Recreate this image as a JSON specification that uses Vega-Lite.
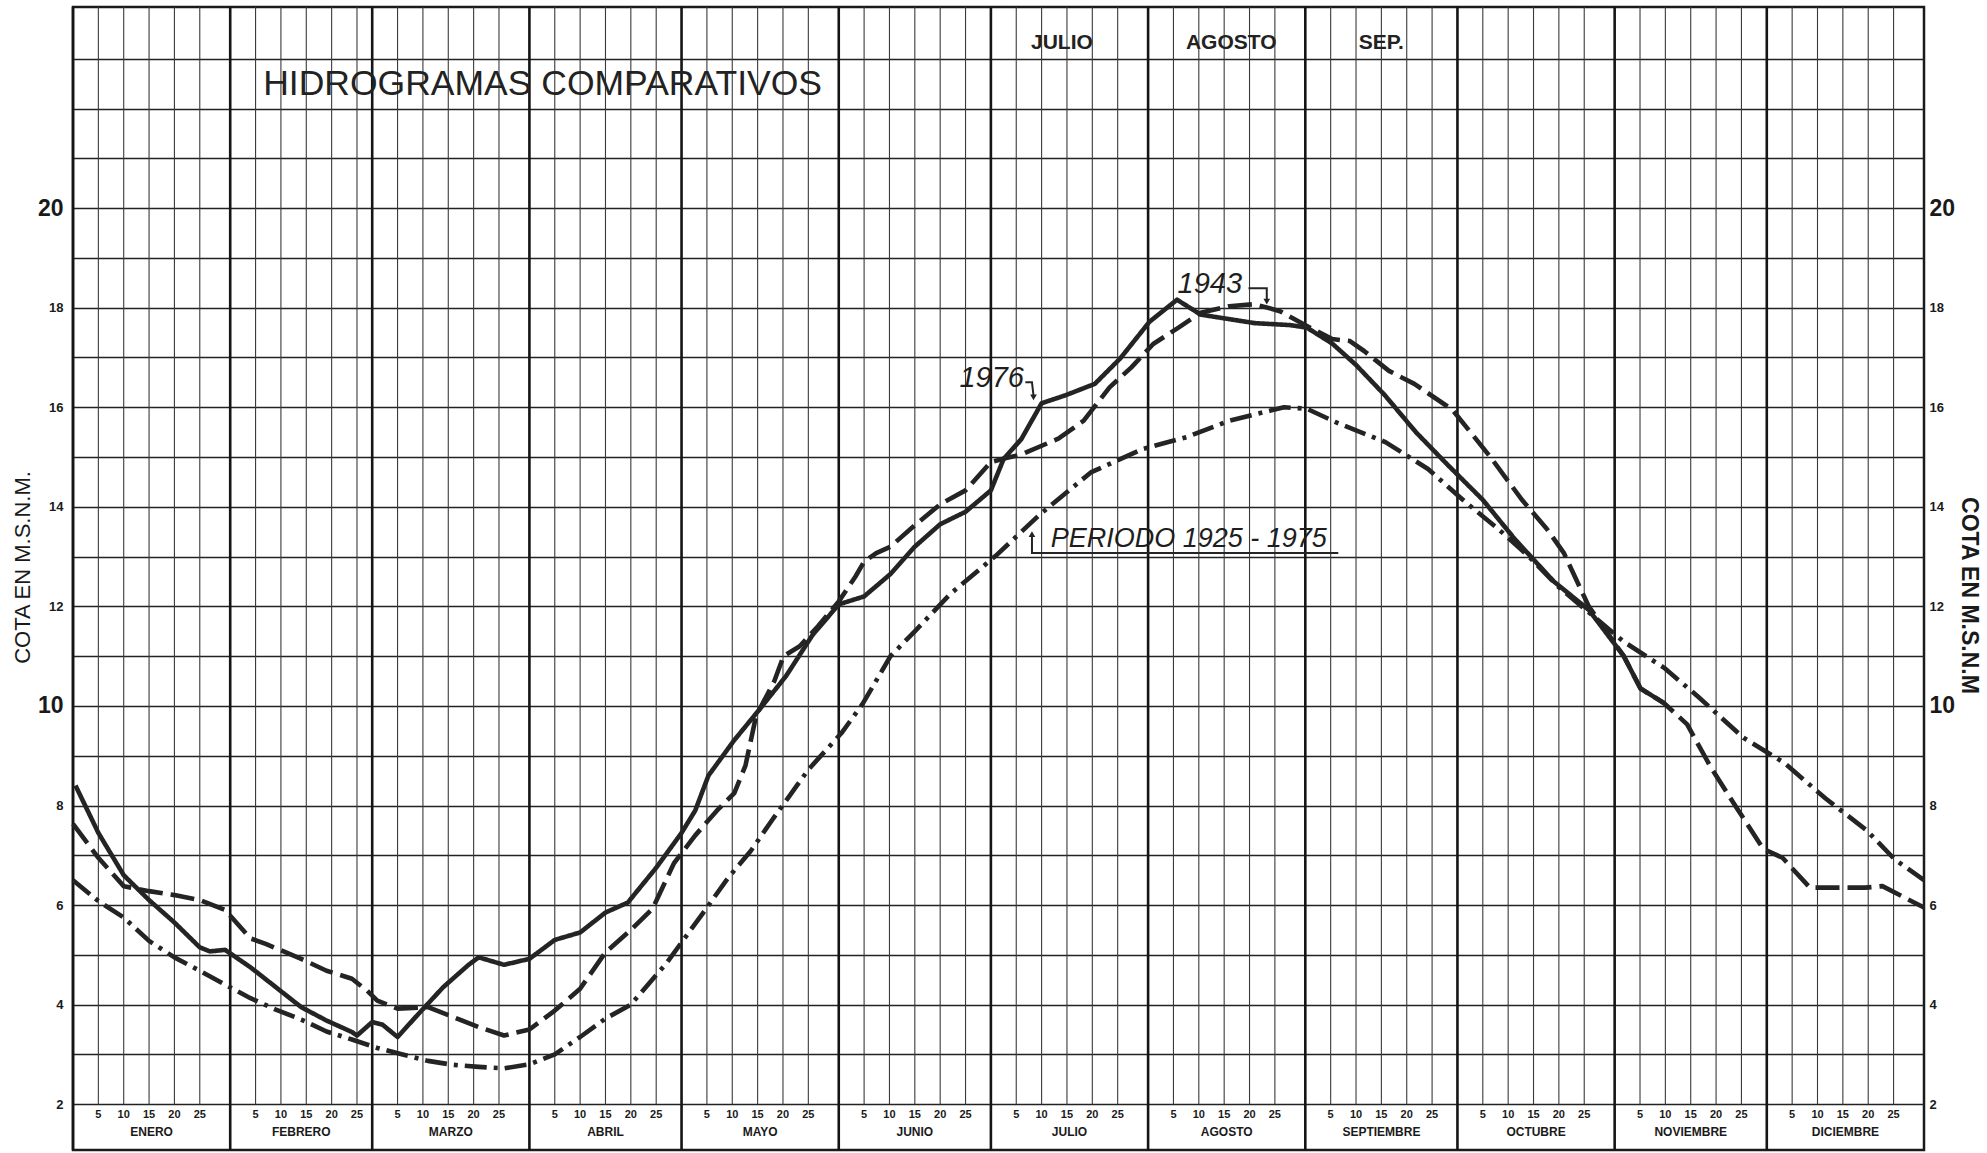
{
  "$schema": "https://vega.github.io/schema/vega-lite/v6.json",
  "width": 1851,
  "height": 1143,
  "autosize": {"type": "none"},
  "padding": {"left": 73, "top": 7, "right": 63, "bottom": 3},
  "background": "#ffffff",
  "config": {
    "view": {"stroke": "#1a1a1a", "strokeWidth": 2.5},
    "font": "Liberation Sans"
  },
  "datasets": {
    "series": [
      {"serie": "1976", "doy": 0.5, "cota": 8.4},
      {"serie": "1976", "doy": 5, "cota": 7.45},
      {"serie": "1976", "doy": 10, "cota": 6.6},
      {"serie": "1976", "doy": 15, "cota": 6.1},
      {"serie": "1976", "doy": 20, "cota": 5.65},
      {"serie": "1976", "doy": 25, "cota": 5.15},
      {"serie": "1976", "doy": 27, "cota": 5.07},
      {"serie": "1976", "doy": 30, "cota": 5.1},
      {"serie": "1976", "doy": 35, "cota": 4.75},
      {"serie": "1976", "doy": 40, "cota": 4.35},
      {"serie": "1976", "doy": 45, "cota": 3.95},
      {"serie": "1976", "doy": 50, "cota": 3.68},
      {"serie": "1976", "doy": 55, "cota": 3.45},
      {"serie": "1976", "doy": 56, "cota": 3.38},
      {"serie": "1976", "doy": 59, "cota": 3.65},
      {"serie": "1976", "doy": 61, "cota": 3.6},
      {"serie": "1976", "doy": 64, "cota": 3.35},
      {"serie": "1976", "doy": 68, "cota": 3.8},
      {"serie": "1976", "doy": 73, "cota": 4.35},
      {"serie": "1976", "doy": 78, "cota": 4.8},
      {"serie": "1976", "doy": 80, "cota": 4.95},
      {"serie": "1976", "doy": 85, "cota": 4.8},
      {"serie": "1976", "doy": 90, "cota": 4.92},
      {"serie": "1976", "doy": 95, "cota": 5.3},
      {"serie": "1976", "doy": 100, "cota": 5.45},
      {"serie": "1976", "doy": 105, "cota": 5.85},
      {"serie": "1976", "doy": 109.4, "cota": 6.05},
      {"serie": "1976", "doy": 115, "cota": 6.75},
      {"serie": "1976", "doy": 120, "cota": 7.45},
      {"serie": "1976", "doy": 122.7, "cota": 7.9},
      {"serie": "1976", "doy": 125.3, "cota": 8.6},
      {"serie": "1976", "doy": 130.3, "cota": 9.3},
      {"serie": "1976", "doy": 135.6, "cota": 9.96},
      {"serie": "1976", "doy": 140.6, "cota": 10.6},
      {"serie": "1976", "doy": 145.8, "cota": 11.42},
      {"serie": "1976", "doy": 151, "cota": 12.04},
      {"serie": "1976", "doy": 156, "cota": 12.2},
      {"serie": "1976", "doy": 161.2, "cota": 12.65},
      {"serie": "1976", "doy": 166, "cota": 13.2},
      {"serie": "1976", "doy": 171, "cota": 13.65},
      {"serie": "1976", "doy": 176, "cota": 13.9},
      {"serie": "1976", "doy": 181, "cota": 14.33},
      {"serie": "1976", "doy": 183.5, "cota": 14.96},
      {"serie": "1976", "doy": 187, "cota": 15.36},
      {"serie": "1976", "doy": 191, "cota": 16.08},
      {"serie": "1976", "doy": 195.7, "cota": 16.24},
      {"serie": "1976", "doy": 201.5, "cota": 16.47},
      {"serie": "1976", "doy": 206.5, "cota": 16.98},
      {"serie": "1976", "doy": 212.3, "cota": 17.72},
      {"serie": "1976", "doy": 217.7, "cota": 18.16},
      {"serie": "1976", "doy": 222.4, "cota": 17.86},
      {"serie": "1976", "doy": 228, "cota": 17.77},
      {"serie": "1976", "doy": 233, "cota": 17.69},
      {"serie": "1976", "doy": 240, "cota": 17.65},
      {"serie": "1976", "doy": 243.3, "cota": 17.6},
      {"serie": "1976", "doy": 248.3, "cota": 17.28},
      {"serie": "1976", "doy": 253, "cota": 16.85},
      {"serie": "1976", "doy": 258.7, "cota": 16.24},
      {"serie": "1976", "doy": 264.8, "cota": 15.5},
      {"serie": "1976", "doy": 271, "cota": 14.85},
      {"serie": "1976", "doy": 278, "cota": 14.14},
      {"serie": "1976", "doy": 284.4, "cota": 13.34},
      {"serie": "1976", "doy": 292, "cota": 12.5},
      {"serie": "1976", "doy": 298.9, "cota": 11.93},
      {"serie": "1976", "doy": 305.8, "cota": 11.0},
      {"serie": "1976", "doy": 309.1, "cota": 10.35},
      {"serie": "1976", "doy": 313.7, "cota": 10.06},
      {"serie": "1943", "doy": 0, "cota": 7.63},
      {"serie": "1943", "doy": 5, "cota": 6.95},
      {"serie": "1943", "doy": 10, "cota": 6.38},
      {"serie": "1943", "doy": 15, "cota": 6.28},
      {"serie": "1943", "doy": 20, "cota": 6.2},
      {"serie": "1943", "doy": 25, "cota": 6.1},
      {"serie": "1943", "doy": 30, "cota": 5.9},
      {"serie": "1943", "doy": 35, "cota": 5.33},
      {"serie": "1943", "doy": 38, "cota": 5.22},
      {"serie": "1943", "doy": 45, "cota": 4.92},
      {"serie": "1943", "doy": 50, "cota": 4.68},
      {"serie": "1943", "doy": 55, "cota": 4.52},
      {"serie": "1943", "doy": 58, "cota": 4.28},
      {"serie": "1943", "doy": 60, "cota": 4.08},
      {"serie": "1943", "doy": 64, "cota": 3.92},
      {"serie": "1943", "doy": 70, "cota": 3.95},
      {"serie": "1943", "doy": 75, "cota": 3.75},
      {"serie": "1943", "doy": 80, "cota": 3.55},
      {"serie": "1943", "doy": 85, "cota": 3.38},
      {"serie": "1943", "doy": 90, "cota": 3.5},
      {"serie": "1943", "doy": 95, "cota": 3.88},
      {"serie": "1943", "doy": 100, "cota": 4.32},
      {"serie": "1943", "doy": 105, "cota": 5.05},
      {"serie": "1943", "doy": 110, "cota": 5.5},
      {"serie": "1943", "doy": 114.3, "cota": 5.93},
      {"serie": "1943", "doy": 118.5, "cota": 6.84},
      {"serie": "1943", "doy": 122.7, "cota": 7.4},
      {"serie": "1943", "doy": 127, "cota": 7.9},
      {"serie": "1943", "doy": 130.4, "cota": 8.25},
      {"serie": "1943", "doy": 132.6, "cota": 8.8},
      {"serie": "1943", "doy": 134.7, "cota": 9.8},
      {"serie": "1943", "doy": 138.3, "cota": 10.5},
      {"serie": "1943", "doy": 140.1, "cota": 11.0},
      {"serie": "1943", "doy": 143.3, "cota": 11.2},
      {"serie": "1943", "doy": 146.9, "cota": 11.6},
      {"serie": "1943", "doy": 151, "cota": 12.1},
      {"serie": "1943", "doy": 154.3, "cota": 12.6},
      {"serie": "1943", "doy": 156, "cota": 12.9},
      {"serie": "1943", "doy": 158.4, "cota": 13.07},
      {"serie": "1943", "doy": 161.2, "cota": 13.2},
      {"serie": "1943", "doy": 166, "cota": 13.63},
      {"serie": "1943", "doy": 171, "cota": 14.05},
      {"serie": "1943", "doy": 176, "cota": 14.33},
      {"serie": "1943", "doy": 181, "cota": 14.9},
      {"serie": "1943", "doy": 184, "cota": 14.98},
      {"serie": "1943", "doy": 187, "cota": 15.05},
      {"serie": "1943", "doy": 194.3, "cota": 15.37},
      {"serie": "1943", "doy": 199.3, "cota": 15.73},
      {"serie": "1943", "doy": 204.4, "cota": 16.4},
      {"serie": "1943", "doy": 208.7, "cota": 16.8},
      {"serie": "1943", "doy": 213, "cota": 17.27},
      {"serie": "1943", "doy": 218, "cota": 17.6},
      {"serie": "1943", "doy": 222.4, "cota": 17.9},
      {"serie": "1943", "doy": 228, "cota": 18.03},
      {"serie": "1943", "doy": 233, "cota": 18.07},
      {"serie": "1943", "doy": 238, "cota": 17.93},
      {"serie": "1943", "doy": 242.6, "cota": 17.67},
      {"serie": "1943", "doy": 248.3, "cota": 17.37},
      {"serie": "1943", "doy": 251.8, "cota": 17.33},
      {"serie": "1943", "doy": 254.6, "cota": 17.13},
      {"serie": "1943", "doy": 259.5, "cota": 16.73},
      {"serie": "1943", "doy": 264.5, "cota": 16.47},
      {"serie": "1943", "doy": 272, "cota": 15.95},
      {"serie": "1943", "doy": 279.5, "cota": 15.0},
      {"serie": "1943", "doy": 285.8, "cota": 14.13},
      {"serie": "1943", "doy": 290.6, "cota": 13.56},
      {"serie": "1943", "doy": 294, "cota": 13.07},
      {"serie": "1943", "doy": 298.9, "cota": 12.0},
      {"serie": "1943", "doy": 305.8, "cota": 11.0},
      {"serie": "1943", "doy": 309.1, "cota": 10.35},
      {"serie": "1943", "doy": 313.7, "cota": 10.06},
      {"serie": "1943", "doy": 318.3, "cota": 9.63},
      {"serie": "1943", "doy": 322.9, "cota": 8.78},
      {"serie": "1943", "doy": 328.2, "cota": 7.93},
      {"serie": "1943", "doy": 333.3, "cota": 7.13},
      {"serie": "1943", "doy": 337.1, "cota": 6.95},
      {"serie": "1943", "doy": 342.5, "cota": 6.35},
      {"serie": "1943", "doy": 353.4, "cota": 6.35},
      {"serie": "1943", "doy": 356.8, "cota": 6.38},
      {"serie": "1943", "doy": 365, "cota": 5.95},
      {"serie": "Periodo 1925-1975", "doy": 0, "cota": 6.5},
      {"serie": "Periodo 1925-1975", "doy": 5, "cota": 6.08},
      {"serie": "Periodo 1925-1975", "doy": 10, "cota": 5.75},
      {"serie": "Periodo 1925-1975", "doy": 15, "cota": 5.28},
      {"serie": "Periodo 1925-1975", "doy": 20, "cota": 4.95},
      {"serie": "Periodo 1925-1975", "doy": 25, "cota": 4.68},
      {"serie": "Periodo 1925-1975", "doy": 30, "cota": 4.4},
      {"serie": "Periodo 1925-1975", "doy": 35, "cota": 4.13},
      {"serie": "Periodo 1925-1975", "doy": 40, "cota": 3.9},
      {"serie": "Periodo 1925-1975", "doy": 45, "cota": 3.7},
      {"serie": "Periodo 1925-1975", "doy": 50, "cota": 3.46},
      {"serie": "Periodo 1925-1975", "doy": 55, "cota": 3.3},
      {"serie": "Periodo 1925-1975", "doy": 60, "cota": 3.13},
      {"serie": "Periodo 1925-1975", "doy": 65, "cota": 3.0},
      {"serie": "Periodo 1925-1975", "doy": 70, "cota": 2.87},
      {"serie": "Periodo 1925-1975", "doy": 75, "cota": 2.79},
      {"serie": "Periodo 1925-1975", "doy": 80, "cota": 2.75},
      {"serie": "Periodo 1925-1975", "doy": 85, "cota": 2.72},
      {"serie": "Periodo 1925-1975", "doy": 90, "cota": 2.8},
      {"serie": "Periodo 1925-1975", "doy": 95, "cota": 3.0},
      {"serie": "Periodo 1925-1975", "doy": 100, "cota": 3.35},
      {"serie": "Periodo 1925-1975", "doy": 105, "cota": 3.72},
      {"serie": "Periodo 1925-1975", "doy": 110, "cota": 4.0},
      {"serie": "Periodo 1925-1975", "doy": 117, "cota": 4.83},
      {"serie": "Periodo 1925-1975", "doy": 124.3, "cota": 5.85},
      {"serie": "Periodo 1925-1975", "doy": 129.2, "cota": 6.55},
      {"serie": "Periodo 1925-1975", "doy": 133.6, "cota": 7.08},
      {"serie": "Periodo 1925-1975", "doy": 137.8, "cota": 7.7},
      {"serie": "Periodo 1925-1975", "doy": 145, "cota": 8.72},
      {"serie": "Periodo 1925-1975", "doy": 151.5, "cota": 9.45},
      {"serie": "Periodo 1925-1975", "doy": 155.7, "cota": 10.04},
      {"serie": "Periodo 1925-1975", "doy": 161.2, "cota": 11.0},
      {"serie": "Periodo 1925-1975", "doy": 166, "cota": 11.5},
      {"serie": "Periodo 1925-1975", "doy": 173, "cota": 12.25},
      {"serie": "Periodo 1925-1975", "doy": 182, "cota": 13.02},
      {"serie": "Periodo 1925-1975", "doy": 190.6, "cota": 13.84},
      {"serie": "Periodo 1925-1975", "doy": 200.7, "cota": 14.69},
      {"serie": "Periodo 1925-1975", "doy": 210.9, "cota": 15.16},
      {"serie": "Periodo 1925-1975", "doy": 219.6, "cota": 15.4},
      {"serie": "Periodo 1925-1975", "doy": 228, "cota": 15.73},
      {"serie": "Periodo 1925-1975", "doy": 238.8, "cota": 16.0},
      {"serie": "Periodo 1925-1975", "doy": 243.3, "cota": 15.97},
      {"serie": "Periodo 1925-1975", "doy": 249, "cota": 15.7},
      {"serie": "Periodo 1925-1975", "doy": 258.8, "cota": 15.3},
      {"serie": "Periodo 1925-1975", "doy": 267.2, "cota": 14.76},
      {"serie": "Periodo 1925-1975", "doy": 274.5, "cota": 14.1},
      {"serie": "Periodo 1925-1975", "doy": 281, "cota": 13.56},
      {"serie": "Periodo 1925-1975", "doy": 287.1, "cota": 13.0},
      {"serie": "Periodo 1925-1975", "doy": 292.7, "cota": 12.41},
      {"serie": "Periodo 1925-1975", "doy": 297.5, "cota": 12.0},
      {"serie": "Periodo 1925-1975", "doy": 305.8, "cota": 11.29},
      {"serie": "Periodo 1925-1975", "doy": 313.7, "cota": 10.77},
      {"serie": "Periodo 1925-1975", "doy": 320.3, "cota": 10.2},
      {"serie": "Periodo 1925-1975", "doy": 329.4, "cota": 9.36},
      {"serie": "Periodo 1925-1975", "doy": 337.4, "cota": 8.86},
      {"serie": "Periodo 1925-1975", "doy": 345.6, "cota": 8.14},
      {"serie": "Periodo 1925-1975", "doy": 353.7, "cota": 7.5},
      {"serie": "Periodo 1925-1975", "doy": 359.2, "cota": 6.92},
      {"serie": "Periodo 1925-1975", "doy": 365, "cota": 6.5}
    ],
    "dias": [
      {"x": 5, "d": "5"}, {"x": 10, "d": "10"}, {"x": 15, "d": "15"}, {"x": 20, "d": "20"}, {"x": 25, "d": "25"},
      {"x": 36, "d": "5"}, {"x": 41, "d": "10"}, {"x": 46, "d": "15"}, {"x": 51, "d": "20"}, {"x": 56, "d": "25"},
      {"x": 64, "d": "5"}, {"x": 69, "d": "10"}, {"x": 74, "d": "15"}, {"x": 79, "d": "20"}, {"x": 84, "d": "25"},
      {"x": 95, "d": "5"}, {"x": 100, "d": "10"}, {"x": 105, "d": "15"}, {"x": 110, "d": "20"}, {"x": 115, "d": "25"},
      {"x": 125, "d": "5"}, {"x": 130, "d": "10"}, {"x": 135, "d": "15"}, {"x": 140, "d": "20"}, {"x": 145, "d": "25"},
      {"x": 156, "d": "5"}, {"x": 161, "d": "10"}, {"x": 166, "d": "15"}, {"x": 171, "d": "20"}, {"x": 176, "d": "25"},
      {"x": 186, "d": "5"}, {"x": 191, "d": "10"}, {"x": 196, "d": "15"}, {"x": 201, "d": "20"}, {"x": 206, "d": "25"},
      {"x": 217, "d": "5"}, {"x": 222, "d": "10"}, {"x": 227, "d": "15"}, {"x": 232, "d": "20"}, {"x": 237, "d": "25"},
      {"x": 248, "d": "5"}, {"x": 253, "d": "10"}, {"x": 258, "d": "15"}, {"x": 263, "d": "20"}, {"x": 268, "d": "25"},
      {"x": 278, "d": "5"}, {"x": 283, "d": "10"}, {"x": 288, "d": "15"}, {"x": 293, "d": "20"}, {"x": 298, "d": "25"},
      {"x": 309, "d": "5"}, {"x": 314, "d": "10"}, {"x": 319, "d": "15"}, {"x": 324, "d": "20"}, {"x": 329, "d": "25"},
      {"x": 339, "d": "5"}, {"x": 344, "d": "10"}, {"x": 349, "d": "15"}, {"x": 354, "d": "20"}, {"x": 359, "d": "25"}
    ],
    "meses": [
      {"mes": "ENERO", "inicio": 0, "mitad": 15.5},
      {"mes": "FEBRERO", "inicio": 31, "mitad": 45},
      {"mes": "MARZO", "inicio": 59, "mitad": 74.5},
      {"mes": "ABRIL", "inicio": 90, "mitad": 105},
      {"mes": "MAYO", "inicio": 120, "mitad": 135.5},
      {"mes": "JUNIO", "inicio": 151, "mitad": 166},
      {"mes": "JULIO", "inicio": 181, "mitad": 196.5},
      {"mes": "AGOSTO", "inicio": 212, "mitad": 227.5},
      {"mes": "SEPTIEMBRE", "inicio": 243, "mitad": 258},
      {"mes": "OCTUBRE", "inicio": 273, "mitad": 288.5},
      {"mes": "NOVIEMBRE", "inicio": 304, "mitad": 319},
      {"mes": "DICIEMBRE", "inicio": 334, "mitad": 349.5}
    ],
    "guias": [
      {"g": "a1943", "o": 1, "x": 231.8, "y": 18.39},
      {"g": "a1943", "o": 2, "x": 235.4, "y": 18.39},
      {"g": "a1943", "o": 3, "x": 235.4, "y": 18.15},
      {"g": "a1976", "o": 1, "x": 187.8, "y": 16.5},
      {"g": "a1976", "o": 2, "x": 189.1, "y": 16.5},
      {"g": "a1976", "o": 3, "x": 189.4, "y": 16.24},
      {"g": "aper", "o": 1, "x": 249.5, "y": 13.07},
      {"g": "aper", "o": 2, "x": 189.1, "y": 13.07},
      {"g": "aper", "o": 3, "x": 189.1, "y": 13.4}
    ],
    "puntas": [
      {"x": 235.4, "y": 18.12, "forma": "triangle-down"},
      {"x": 189.4, "y": 16.2, "forma": "triangle-down"},
      {"x": 189.1, "y": 13.45, "forma": "triangle-up"}
    ]
  },
  "layer": [
    {
      "data": {"name": "dias"},
      "mark": {"type": "rule", "stroke": "#3a3a3a", "strokeWidth": 1.1},
      "encoding": {
        "x": {"field": "x", "type": "quantitative", "scale": {"domain": [0, 365], "nice": false, "zero": false}, "axis": null},
        "y": {
          "datum": 2, "type": "quantitative",
          "scale": {"domain": [1.08, 24.04], "nice": false, "zero": false},
          "axis": {
            "orient": "left",
            "values": [2, 3, 4, 5, 6, 7, 8, 9, 10, 11, 12, 13, 14, 15, 16, 17, 18, 19, 20, 21, 22, 23],
            "grid": true, "gridColor": "#222222", "gridWidth": 1.6, "gridOpacity": 1,
            "domain": false, "ticks": false,
            "labelExpr": "datum.value <= 20 && datum.value % 2 == 0 ? datum.value : ''",
            "labelFontSize": {"condition": {"test": "datum.value == 20 || datum.value == 10", "value": 23}, "value": 13},
            "labelFontWeight": "bold",
            "labelColor": "#1a1a1a", "labelPadding": 10, "labelFont": "Liberation Sans",
            "title": "COTA EN M.S.N.M.", "titleFont": "Liberation Sans", "titleFontSize": 22, "titleFontWeight": "normal",
            "titleColor": "#1a1a1a", "titleAngle": -90, "titleX": -51, "titleY": 560, "titleBaseline": "middle", "titleAlign": "center"
          }
        },
        "y2": {"datum": 24.04}
      }
    },
    {
      "data": {"name": "meses"},
      "mark": {"type": "rule", "stroke": "#151515", "strokeWidth": 2.6},
      "encoding": {
        "x": {"field": "inicio", "type": "quantitative", "axis": null},
        "y": {
          "datum": 1.08, "type": "quantitative",
          "axis": {
            "orient": "right",
            "values": [2, 4, 6, 8, 10, 12, 14, 16, 18, 20],
            "grid": false, "domain": false, "ticks": false,
            "labelFontSize": {"condition": {"test": "datum.value == 20 || datum.value == 10", "value": 23}, "value": 13},
            "labelFontWeight": "bold",
            "labelColor": "#1a1a1a", "labelPadding": 5, "labelFont": "Liberation Sans",
            "title": "COTA EN M.S.N.M", "titleFont": "Liberation Sans", "titleFontSize": 23, "titleFontWeight": "bold",
            "titleColor": "#1a1a1a", "titleAngle": 90, "titleX": 44, "titleY": 588, "titleBaseline": "middle", "titleAlign": "center"
          }
        },
        "y2": {"datum": 24.04}
      }
    },
    {
      "data": {"name": "meses"},
      "mark": {"type": "text", "font": "Liberation Sans", "fontSize": 12, "fontWeight": "bold", "color": "#1a1a1a", "baseline": "middle", "align": "center"},
      "encoding": {
        "x": {"field": "mitad", "type": "quantitative", "axis": null},
        "y": {"datum": 1.44, "type": "quantitative", "axis": null},
        "text": {"field": "mes"}
      }
    },
    {
      "data": {"name": "dias"},
      "mark": {"type": "text", "font": "Liberation Sans", "fontSize": 11, "fontWeight": "bold", "color": "#1a1a1a", "baseline": "middle", "align": "center"},
      "encoding": {
        "x": {"field": "x", "type": "quantitative", "axis": null},
        "y": {"datum": 1.78, "type": "quantitative", "axis": null},
        "text": {"field": "d"}
      }
    },
    {
      "data": {"name": "series"},
      "mark": {"type": "line", "stroke": "#242424", "strokeWidth": 4.6, "strokeJoin": "round"},
      "encoding": {
        "x": {"field": "doy", "type": "quantitative", "axis": null},
        "y": {"field": "cota", "type": "quantitative", "axis": null},
        "detail": {"field": "serie"},
        "strokeDash": {
          "field": "serie", "type": "nominal", "legend": null,
          "scale": {"domain": ["1976", "1943", "Periodo 1925-1975"], "range": [[1, 0], [24, 8], [22, 7, 4, 7]]}
        }
      }
    },
    {
      "data": {"name": "guias"},
      "mark": {"type": "line", "stroke": "#242424", "strokeWidth": 2},
      "encoding": {
        "x": {"field": "x", "type": "quantitative", "axis": null},
        "y": {"field": "y", "type": "quantitative", "axis": null},
        "detail": {"field": "g"},
        "order": {"field": "o"}
      }
    },
    {
      "data": {"name": "puntas"},
      "mark": {"type": "point", "filled": true, "color": "#242424", "size": 45, "opacity": 1},
      "encoding": {
        "x": {"field": "x", "type": "quantitative", "axis": null},
        "y": {"field": "y", "type": "quantitative", "axis": null},
        "shape": {"field": "forma", "type": "nominal", "scale": null}
      }
    },
    {
      "data": {"values": [
        {"t": "1943", "x": 217.8, "y": 18.47},
        {"t": "1976", "x": 174.8, "y": 16.58}
      ]},
      "mark": {"type": "text", "font": "Liberation Sans", "fontStyle": "italic", "fontSize": 29, "color": "#1e1e1e", "align": "left", "baseline": "middle"},
      "encoding": {
        "x": {"field": "x", "type": "quantitative", "axis": null},
        "y": {"field": "y", "type": "quantitative", "axis": null},
        "text": {"field": "t"}
      }
    },
    {
      "data": {"values": [{"t": "PERIODO 1925 - 1975", "x": 192.8, "y": 13.36}]},
      "mark": {"type": "text", "font": "Liberation Sans", "fontStyle": "italic", "fontSize": 27, "color": "#1e1e1e", "align": "left", "baseline": "middle"},
      "encoding": {
        "x": {"field": "x", "type": "quantitative", "axis": null},
        "y": {"field": "y", "type": "quantitative", "axis": null},
        "text": {"field": "t"}
      }
    },
    {
      "data": {"values": [{"t": "HIDROGRAMAS COMPARATIVOS", "x": 37.5, "y": 22.5}]},
      "mark": {"type": "text", "font": "Liberation Sans", "fontSize": 35.5, "color": "#222222", "align": "left", "baseline": "middle"},
      "encoding": {
        "x": {"field": "x", "type": "quantitative", "axis": null},
        "y": {"field": "y", "type": "quantitative", "axis": null},
        "text": {"field": "t"}
      }
    },
    {
      "data": {"values": [
        {"t": "JULIO", "x": 195, "y": 23.32},
        {"t": "AGOSTO", "x": 228.4, "y": 23.32},
        {"t": "SEP.", "x": 258, "y": 23.32}
      ]},
      "mark": {"type": "text", "font": "Liberation Sans", "fontSize": 21, "fontWeight": "bold", "color": "#222222", "align": "center", "baseline": "middle"},
      "encoding": {
        "x": {"field": "x", "type": "quantitative", "axis": null},
        "y": {"field": "y", "type": "quantitative", "axis": null},
        "text": {"field": "t"}
      }
    }
  ],
  "resolve": {"axis": {"y": "independent"}}
}
